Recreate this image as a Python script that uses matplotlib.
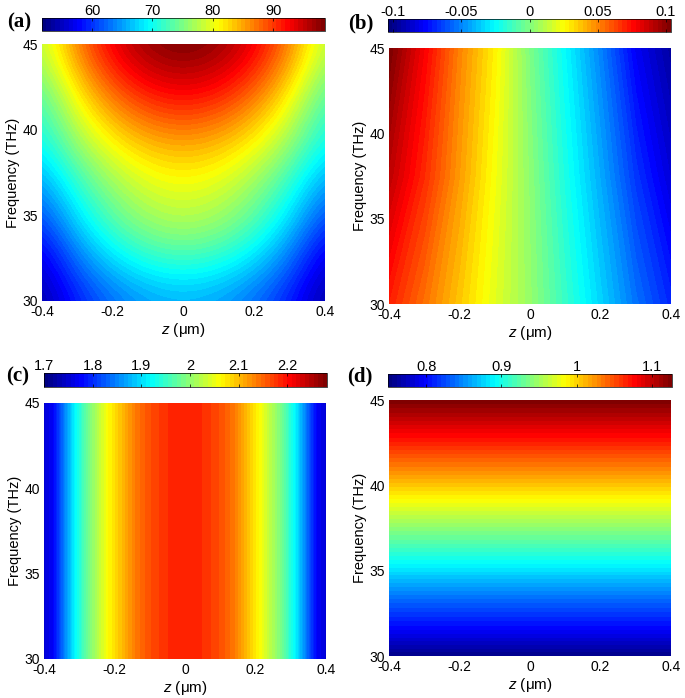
import numpy as np
import matplotlib
matplotlib.use('Agg')
import matplotlib.pyplot as plt
from matplotlib.cm import ScalarMappable
from matplotlib.colors import LinearSegmentedColormap, Normalize

plt.rcParams['font.family'] = ['Liberation Sans', 'DejaVu Sans']
plt.rcParams['mathtext.fontset'] = 'custom'
plt.rcParams['mathtext.it'] = 'Liberation Sans:italic'
plt.rcParams['mathtext.rm'] = 'Liberation Sans'

# Значения
z_ticks = [-0.4, -0.2, 0, 0.2, 0.4]
z_labels = ['-0.4', '-0.2', '0', '0.2', '0.4']
f_ticks = [30, 35, 40, 45]

z_a = [-0.4, -0.3, -0.2, -0.1, 0, 0.1, 0.2, 0.3, 0.4]
f_a = [30, 31.5, 33, 34.5, 36, 37.5, 39, 40.5, 42, 43.5, 45]
values_a = [
    [53.7, 59.1, 62.9, 65.2, 66.0, 65.2, 62.9, 59.1, 53.7],
    [55.0, 61.3, 65.7, 68.4, 69.3, 68.4, 65.7, 61.3, 55.0],
    [57.0, 64.2, 69.4, 72.5, 73.5, 72.5, 69.4, 64.2, 57.0],
    [60.0, 67.4, 72.8, 75.9, 77.0, 75.9, 72.8, 67.4, 60.0],
    [63.0, 70.1, 75.2, 78.3, 79.3, 78.3, 75.2, 70.1, 63.0],
    [66.0, 72.9, 77.8, 80.7, 81.7, 80.7, 77.8, 72.9, 66.0],
    [69.0, 75.9, 80.8, 83.7, 84.7, 83.7, 80.8, 75.9, 69.0],
    [71.0, 78.7, 84.1, 87.4, 88.5, 87.4, 84.1, 78.7, 71.0],
    [73.0, 81.5, 87.6, 91.2, 92.4, 91.2, 87.6, 81.5, 73.0],
    [75.5, 84.5, 90.9, 94.7, 96.0, 94.7, 90.9, 84.5, 75.5],
    [77.5, 86.7, 93.3, 97.3, 98.6, 97.3, 93.3, 86.7, 77.5],
]

z_b = [-0.4, -0.3, -0.2, -0.1, 0, 0.1, 0.2, 0.3, 0.4]
f_b = [30, 37.5, 45]
values_b = [
    [0.071, 0.054, 0.0366, 0.0197, 0.004, -0.0148, -0.0343, -0.054, -0.07],
    [0.09, 0.0685, 0.0455, 0.0235, 0.0024, -0.0205, -0.0427, -0.0665, -0.085],
    [0.104, 0.078, 0.0505, 0.028, -0.001, -0.026, -0.051, -0.079, -0.096],
]

z_c = [-0.4, -0.374, -0.312, -0.27, -0.218, -0.142, -0.1, -0.05, 0,
       0.05, 0.1, 0.142, 0.21, 0.27, 0.312, 0.374, 0.4]
f_c = [30, 45]
profile_c = [1.752, 1.773, 1.918, 1.99, 2.063, 2.136, 2.162, 2.181, 2.19,
             2.181, 2.162, 2.136, 2.063, 1.99, 1.918, 1.773, 1.752]

z_d = [-0.4, 0.4]
f_d = [30, 31.5, 33.6, 35.4, 37.3, 39.2, 41.1, 43.05, 45]
profile_d = [0.755, 0.796, 0.8435, 0.891, 0.938, 0.985, 1.0325, 1.08, 1.127]

limits = {'a': (51.7, 98.6), 'b': (-0.104, 0.104), 'c': (1.7, 2.2814), 'd': (0.749, 1.127)}
cbar_ticks = {
    'a': ([60, 70, 80, 90], ['60', '70', '80', '90']),
    'b': ([-0.1, -0.05, 0, 0.05, 0.1], ['-0.1', '-0.05', '0', '0.05', '0.1']),
    'c': ([1.7, 1.8, 1.9, 2, 2.1, 2.2], ['1.7', '1.8', '1.9', '2', '2.1', '2.2']),
    'd': ([0.8, 0.9, 1, 1.1], ['0.8', '0.9', '1', '1.1']),
}

W, H = 685, 698


def box(x0, y0, x1, y1):
    # пиксели картинки -> доли фигуры
    return [x0 / W, 1 - y1 / H, (x1 - x0) / W, (y1 - y0) / H]


fig = plt.figure(figsize=(6.85, 6.98), dpi=100)

# jet как в MATLAB, у matplotlib зелёная часть шире
jet64 = LinearSegmentedColormap.from_list('matlab_jet', [
    (0, (0, 0, 0.5)), (0.125, (0, 0, 1)), (0.375, (0, 1, 1)),
    (0.625, (1, 1, 0)), (0.875, (1, 0, 0)), (1, (0.5, 0, 0))], N=64)

panels = [
    ('a', z_a, f_a, np.array(values_a), (42, 44, 325, 301), (42, 18, 325, 31), (7, 22)),
    ('b', z_b, f_b, np.array(values_b), (389, 48, 671, 304), (388, 19, 671, 32), (348, 23)),
    ('c', z_c, f_c, np.vstack([profile_c, profile_c]), (44, 403, 326, 659), (44, 373, 327, 387), (6, 376)),
    ('d', z_d, f_d, np.column_stack([profile_d, profile_d]), (389, 400, 671, 656), (388, 374, 672, 387), (347, 376)),
]

for name, z, f, values, main_box, bar_box, label_pos in panels:
    vmin, vmax = limits[name]
    norm = Normalize(vmin, vmax)
    ax = fig.add_axes(box(*main_box))
    if name == 'a':
        # сетка крупная, дуги сглаживаем через imshow
        dz = z[1] - z[0]
        df = f[1] - f[0]
        ax.imshow(values, origin='lower', aspect='auto', cmap=jet64, norm=norm,
                  interpolation='bicubic', interpolation_stage='data',
                  extent=(z[0] - dz / 2, z[-1] + dz / 2, f[0] - df / 2, f[-1] + df / 2))
    else:
        ax.contourf(z, f, values, levels=np.linspace(vmin, vmax, 65), cmap=jet64,
                    extend='both', antialiased=False)
    ax.set_xlim(-0.4, 0.4)
    ax.set_ylim(30, 45)
    ax.set_xticks(z_ticks, z_labels)
    ax.set_yticks(f_ticks)
    ax.tick_params(length=0, labelsize=10, pad=3)
    ax.set_xlabel(r'$z$ ($\mathrm{\mu}$m)', fontsize=11, labelpad=1)
    ax.set_ylabel('Frequency (THz)', fontsize=10.5, labelpad=2)
    for s in ax.spines.values():
        s.set_visible(False)

    cax = fig.add_axes(box(*bar_box))
    sm = ScalarMappable(norm=norm, cmap=jet64)
    cb = fig.colorbar(sm, cax=cax, orientation='horizontal', ticklocation='top')
    cb.set_ticks(cbar_ticks[name][0], labels=cbar_ticks[name][1])
    cax.tick_params(direction='in', length=2.5, width=0.5, labelsize=10.5, pad=0,
                    top=True, bottom=True)
    cb.outline.set_linewidth(0.5)

    fig.text(label_pos[0] / W, 1 - label_pos[1] / H, '(%s)' % name, fontsize=15,
             fontweight='bold', family='Liberation Serif', va='center', ha='left')

plt.savefig('out.png', dpi=100)
